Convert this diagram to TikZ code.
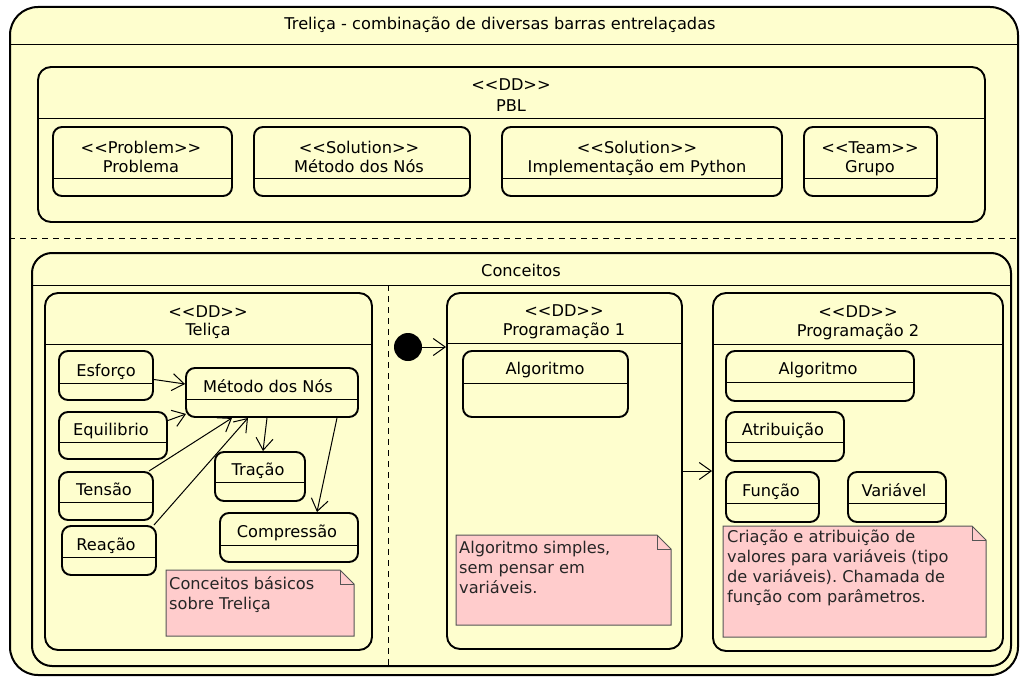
\documentclass[tikz,border=0pt]{standalone}
\usepackage{fontspec}
\setmainfont{DejaVu Sans}
\usetikzlibrary{arrows.meta,fit}
\definecolor{stfill}{HTML}{FEFECE}
\definecolor{notefill}{HTML}{FFCCCC}
\definecolor{noteline}{HTML}{555555}
\frenchspacing
\tikzset{
  every node/.style={font=\fontsize{16.2}{20}\selectfont},
  st/.style={draw=black, line width=1.9pt, fill=stfill, rounded corners=9pt, inner sep=0pt},
  dd/.style={st, rounded corners=13pt},
  sepline/.style={line width=1pt},
  lbl/.style={anchor=base, inner sep=0pt},
  notetxt/.style={anchor=north west, inner sep=0pt, align=left, text=black!85},
  arr/.style={line width=1pt, -{Straight Barb[length=12pt,width=17pt]}},
  notestyle/.style={draw=noteline, line width=1pt, fill=notefill},
  dashline/.style={line width=1pt, dash pattern=on 6pt off 5pt},
}
\newcommand\mkstate[7]{%
  \node[#7, fit={(#2,#3) (#4,#5)}] (#1) {};
  \draw[sepline] (#1.west |- 0,#6) -- (#1.east |- 0,#6);
}
\newcommand\mknote[5]{%
  \node[fit={(#2,#3) (#4,#5)}, inner sep=0pt, outer sep=0pt] (#1) {};
  \draw[notestyle] (#1.south west) -- (#1.north west) -- ([xshift=-14pt]#1.north east) -- ([yshift=-14pt]#1.north east) -- (#1.south east) -- cycle;
  \draw[noteline, line width=1pt] ([xshift=-14pt]#1.north east) |- ([yshift=-14pt]#1.north east);
}
\begin{document}
\begin{tikzpicture}[x=1pt,y=-1pt]
\useasboundingbox (0,0) rectangle (1023,677);
% outer
\node[st, line width=2pt, rounded corners=28pt, fit={(10,7) (1018,675)}] (outer) {};
\draw[sepline] (outer.west |- 0,45) -- (outer.east |- 0,45);
\node[lbl] (outer-t) at (500,30) {Treliça - combinação de diversas barras entrelaçadas};
% PBL
\mkstate{pbl}{38}{67}{985}{222}{118}{dd}
\node[lbl] (pbl-s) at (511,91) {<{}<DD>{}>};
\node[lbl] (pbl-t) at (511,111) {PBL};
\mkstate{prob}{53}{127}{232}{196}{178}{st}
\node[lbl] (prob-s) at (141,153) {<{}<Problem>{}>};
\node[lbl] (prob-t) at (141,172) {Problema};
\mkstate{sol1}{254}{127}{470}{196}{178}{st}
\node[lbl] (sol1-s) at (359,153) {<{}<Solution>{}>};
\node[lbl] (sol1-t) at (359,172) {Método dos Nós};
\mkstate{sol2}{502}{127}{782}{196}{178}{st}
\node[lbl] (sol2-s) at (637,153) {<{}<Solution>{}>};
\node[lbl] (sol2-t) at (637,172) {Implementação em Python};
\mkstate{team}{804}{127}{937}{196}{178}{st}
\node[lbl] (team-s) at (870,153) {<{}<Team>{}>};
\node[lbl] (team-t) at (870,172) {Grupo};
% dashed split
\draw[dashline] (outer.west |- 0,238) -- (outer.east |- 0,238);
% Conceitos
\mkstate{conc}{32}{253}{1011}{666}{285}{st, line width=2pt, rounded corners=20pt}
\node[lbl] (conc-t) at (521,276) {Conceitos};
\draw[dashline] (388,285) -- (conc.south -| 388,0);
% Telica
\mkstate{tel}{45}{293}{372}{650}{344}{dd}
\node[lbl] (tel-s) at (208,317) {<{}<DD>{}>};
\node[lbl] (tel-t) at (208,335) {Teliça};
\mkstate{esf}{59}{351}{153}{400}{383}{st}
\node[lbl] (esf-t) at (106,376) {Esforço};
\mkstate{equ}{59}{412}{167}{459}{442}{st}
\node[lbl] (equ-t) at (111,435) {Equilibrio};
\mkstate{ten}{59}{472}{153}{520}{502}{st}
\node[lbl] (ten-t) at (104,495) {Tensão};
\mkstate{rea}{62}{526}{156}{575}{557}{st}
\node[lbl] (rea-t) at (106,550) {Reação};
\mkstate{met}{186}{368}{358}{417}{399}{st}
\node[lbl] (met-t) at (268,392) {Método dos Nós};
\mkstate{tra}{215}{452}{305}{501}{482}{st}
\node[lbl] (tra-t) at (258,475) {Tração};
\mkstate{comp}{220}{513}{358}{562}{545}{st}
\node[lbl] (comp-t) at (287,537) {Compressão};
\mknote{n1}{166}{570}{354}{636}
\node[notetxt] (n1-t) at (169,576) {Conceitos básicos\\sobre Treliça};
\draw[arr] ([yshift=-4pt]esf.east) -- ([yshift=8.5pt]met.west);
\draw[arr] ([yshift=15pt]equ.east) -- ([shift={(1pt,4pt)}]met.south west);
\draw[arr] ([xshift=-5pt]ten.north east) -- ([xshift=-40pt]met.south);
\draw[arr] ([xshift=-3pt]rea.north east) -- ([xshift=-24pt]met.south);
\draw[arr] ([xshift=-5pt]met.south) -- ([xshift=3pt]tra.north);
\draw[arr] ([xshift=65pt]met.south) -- ([xshift=28pt]comp.north);
% Programacao 1
\mkstate{p1}{447}{293}{682}{649}{343}{dd}
\node[lbl] (p1-s) at (564,316) {<{}<DD>{}>};
\node[lbl] (p1-t) at (564,335) {Programação 1};
\mkstate{alg1}{463}{351}{628}{417}{383}{st}
\node[lbl] (alg1-t) at (545,374) {Algoritmo};
\mknote{n2}{456}{535}{671}{625}
\node[notetxt] (n2-t) at (459,541) {Algoritmo simples,\\sem pensar em\\variáveis.};
\node[circle, fill=black, minimum size=28pt, inner sep=0pt] (init) at (408,347) {};
\draw[arr] (init) -- (init -| p1.west);
% Programacao 2
\mkstate{p2}{713}{293}{1003}{651}{344}{dd}
\node[lbl] (p2-s) at (858,317) {<{}<DD>{}>};
\node[lbl] (p2-t) at (858,336) {Programação 2};
\mkstate{alg2}{726}{351}{914}{401}{382}{st}
\node[lbl] (alg2-t) at (818,374) {Algoritmo};
\mkstate{atr}{726}{412}{844}{461}{442}{st}
\node[lbl] (atr-t) at (783,435) {Atribuição};
\mkstate{fun}{726}{472}{819}{522}{503}{st}
\node[lbl] (fun-t) at (771,496) {Função};
\mkstate{var}{848}{472}{946}{522}{503}{st}
\node[lbl] (var-t) at (894,496) {Variável};
\mknote{n3}{723}{526}{986}{637}
\node[notetxt] (n3-t) at (727,530) {Criação e atribuição de\\valores para variáveis (tipo\\de variáveis). Chamada de\\função com parâmetros.};
\draw[arr] (p1.east) -- (p1.east -| p2.west);
\end{tikzpicture}
\end{document}
